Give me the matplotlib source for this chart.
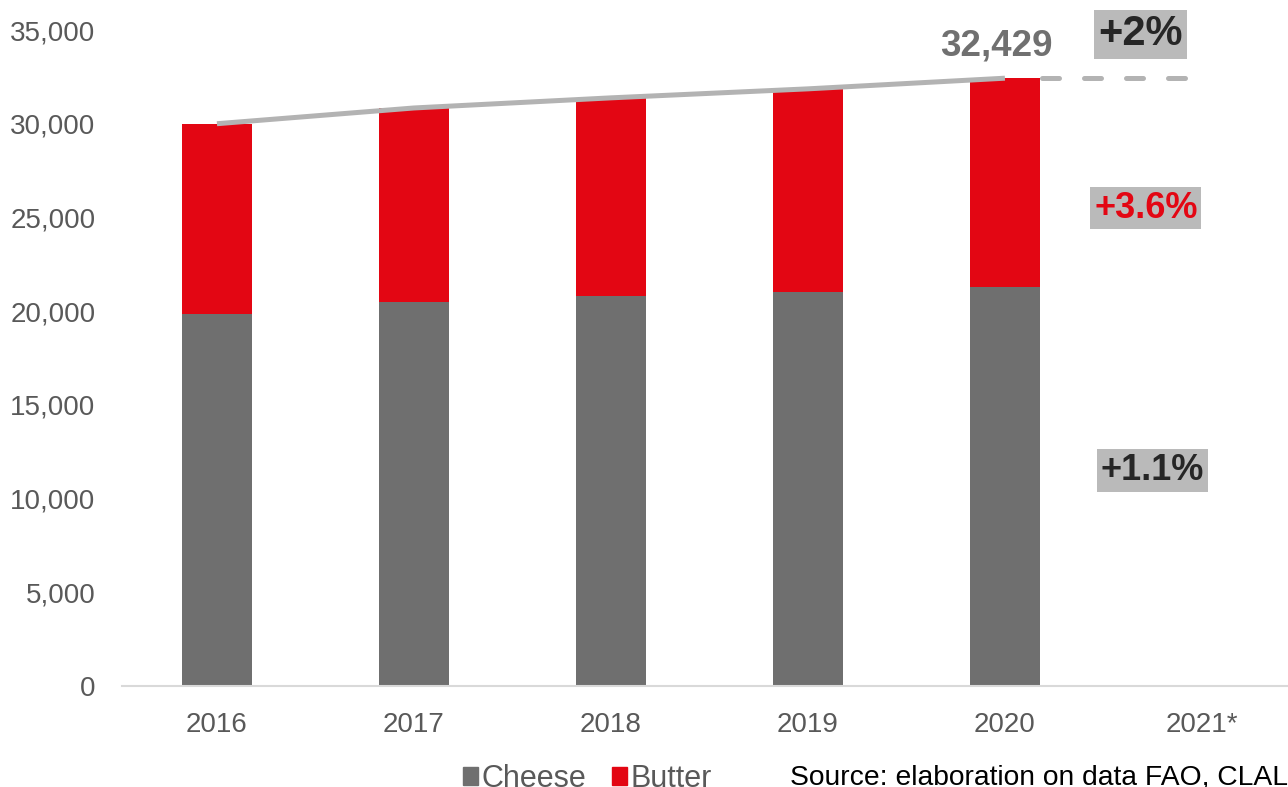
import matplotlib
matplotlib.use("Agg")
import matplotlib.pyplot as plt
from matplotlib.patches import Patch

plt.rcParams['font.family'] = ['Liberation Sans', 'DejaVu Sans']

# Data (thousand tonnes)
years = ["2016", "2017", "2018", "2019", "2020", "2021*"]
cheese = [19850, 20490, 20810, 21020, 21290]
butter = [10150, 10350, 10570, 10840, 11139]
totals = [c + b for c, b in zip(cheese, butter)]

growth_total = "+2%"
growth_butter = "+3.6%"
growth_cheese = "+1.1%"
source_note = "Source: elaboration on data FAO, CLAL"

CHEESE_C = "#6f6f6f"
BUTTER_C = "#e30613"
LINE_C = "#b3b3b3"
TICK_C = "#595959"

W, H = 1288, 787
fig = plt.figure(figsize=(W / 100, H / 100), dpi=100)
ax = fig.add_axes([122 / W, 1 - 686 / H, 1 - 122 / W, (686 - 30) / H])

x = list(range(len(years)))
xb = x[:len(cheese)]
bw = 0.355

ax.bar(xb, cheese, width=bw, color=CHEESE_C, zorder=2, label="Cheese")
ax.bar(xb, butter, width=bw, bottom=cheese, color=BUTTER_C, zorder=2, label="Butter")

# total trend line and forecast continuation
ax.plot(xb, totals, color=LINE_C, lw=3.6, zorder=3, solid_capstyle='butt')
ax.plot([xb[-1] + bw / 2 + 0.01, x[-1] - 0.05], [totals[-1], totals[-1]],
        color=LINE_C, lw=3.6, dashes=(3.4, 5.0), dash_capstyle='round', zorder=3)

ax.annotate(f"{totals[-1]:,}", (xb[-1], totals[-1]), xytext=(-6.5, 23.5),
            textcoords='offset points', ha='center', va='center',
            fontsize=26.5, fontweight='bold', color="#707070", zorder=4)

def growth_box(xv, yv, label, size, color):
    ax.text(xv, yv, label, ha='center', va='center', fontsize=size,
            fontweight='bold', color=color, zorder=4,
            bbox=dict(boxstyle='square,pad=0.1', fc='#bababa', ec='none'))

growth_box(4.69, 34760, growth_total, 30, '#262626')
growth_box(4.715, 25500, growth_butter, 26, BUTTER_C)
growth_box(4.75, 11500, growth_cheese, 26, '#262626')

ax.set_xlim(-0.482, 5.437)
ax.set_ylim(0, 35000)
ax.set_xticks(x)
ax.set_xticklabels(years)
ax.set_yticks(range(0, 35001, 5000))
ax.set_yticklabels([f"{v:,}" for v in range(0, 35001, 5000)])
ax.tick_params(axis='both', length=0, labelsize=20, colors=TICK_C)
ax.tick_params(axis='y', pad=19)
ax.tick_params(axis='x', pad=19)

for s in ['top', 'right', 'left']:
    ax.spines[s].set_visible(False)
ax.spines['bottom'].set_color('#d9d9d9')
ax.spines['bottom'].set_linewidth(1.5)

handles = [Patch(color=CHEESE_C, label="Cheese"), Patch(color=BUTTER_C, label="Butter")]
leg = fig.legend(handles=handles, loc='center left', bbox_to_anchor=(463 / W, 1 - 779 / H),
                 ncol=2, frameon=False, fontsize=22, handlelength=0.5, handleheight=0.5,
                 handletextpad=0.1, columnspacing=0.85, borderpad=0, borderaxespad=0)
for t in leg.get_texts():
    t.set_color(TICK_C)

fig.text(790 / W, 1 - 785 / H, source_note, ha='left', va='baseline', fontsize=20.3, color='black')

fig.savefig("out.png", dpi=100)
